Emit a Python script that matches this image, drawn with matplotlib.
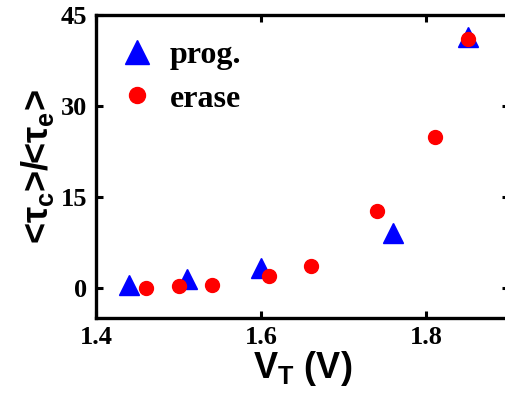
import matplotlib
matplotlib.use("Agg")
import matplotlib.pyplot as plt

plt.rcParams['mathtext.fontset'] = 'custom'
plt.rcParams['mathtext.rm'] = 'Liberation Sans:bold'
plt.rcParams['mathtext.it'] = 'Liberation Sans:bold'
plt.rcParams['mathtext.bf'] = 'Liberation Sans:bold'

# data
prog_v = [1.44, 1.51, 1.60, 1.76, 1.85]
prog_ratio = [0.5, 1.4, 3.2, 9.0, 41.4]
erase_v = [1.46, 1.50, 1.54, 1.61, 1.66, 1.74, 1.81, 1.85]
erase_ratio = [0.0, 0.2, 0.45, 2.0, 3.6, 12.7, 24.8, 41.0]
xticks = [1.4, 1.6, 1.8]
yticks = [0, 15, 30, 45]

fig = plt.figure(figsize=(5.05, 4.0), dpi=100)
ax = fig.add_axes([0.19, 0.205, 0.818, 0.7575])

ax.plot(prog_v, prog_ratio, ls='none', marker='^', ms=15, color='#0000ff', label='prog.')
ax.plot(erase_v, erase_ratio, ls='none', marker='o', ms=10, color='#ff0000', label='erase')

ax.set_xlim(1.4, 1.9)
ax.set_ylim(-5, 45)
ax.set_xticks(xticks)
ax.set_yticks(yticks)

tick_font = {'family': 'Liberation Serif', 'weight': 'bold', 'size': 19}
ax.set_xticklabels([f"{t:.1f}" for t in xticks], fontdict=tick_font)
ax.set_yticklabels([str(t) for t in yticks], fontdict=tick_font)
ax.tick_params(direction='in', length=5, width=2.2, top=True, right=True, pad=6)

for s in ax.spines.values():
    s.set_linewidth(2.4)

ax.set_xlabel(r'V$_{\mathrm{T}}$ (V)', fontsize=26, fontweight='bold',
              family='Liberation Sans', labelpad=0)
ax.set_ylabel(r'<$\mathrm{\tau}_{\mathrm{c}}$>/<$\mathrm{\tau}_{\mathrm{e}}$>', fontsize=26,
              fontweight='bold', family='Liberation Sans', labelpad=4)

leg = ax.legend(loc='upper left', frameon=False, handletextpad=0.5,
                borderaxespad=0.4, labelspacing=0.45, handlelength=1.0,
                markerscale=1.15,
                prop={'family': 'Liberation Serif', 'weight': 'bold', 'size': 23})

fig.savefig('out.png', dpi=100)
